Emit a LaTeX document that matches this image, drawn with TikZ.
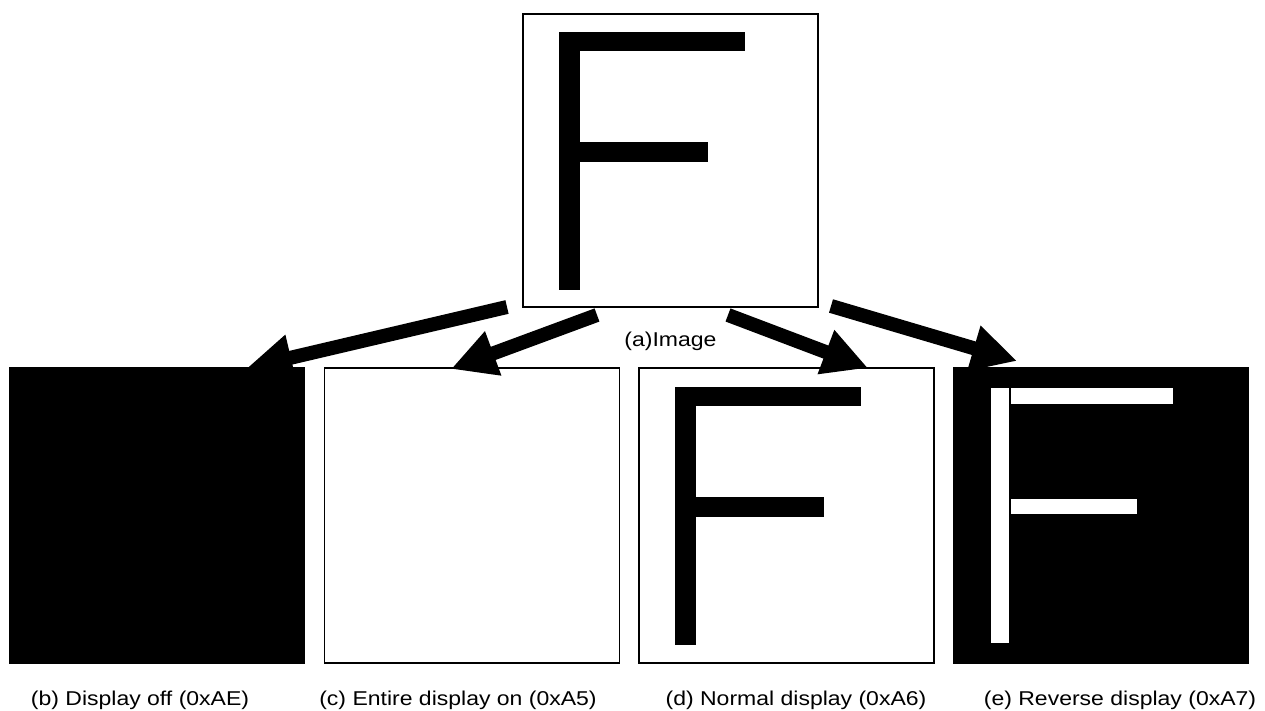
\documentclass[tikz,border=0pt]{standalone}
\usepackage{fontspec}
\setmainfont[FakeStretch=1.15]{Liberation Sans}
\usetikzlibrary{arrows.meta}
\tikzset{
  screen/.style={draw=black, line width=1.4pt, inner sep=0pt, minimum width=295pt, minimum height=295pt},
  caption/.style={anchor=base, inner sep=0pt, font=\fontsize{20}{24}\selectfont},
  bigarrow/.style={line width=14pt, -{Triangle[length=45pt,width=44pt]}},
}
% F glyph: #1 = left x, #2 = top y, #3 = colour, #4 = gap between stem and bars
\newcommand\myFglyph[4]{%
  \fill[#3] (#1+36,#2+19) rectangle (#1+57,#2+277);
  \fill[#3] (#1+57+#4,#2+19) rectangle (#1+222,#2+38);
  \fill[#3] (#1+57+#4,#2+129) rectangle (#1+185,#2+149);
}
\begin{document}
\begin{tikzpicture}[x=1pt,y=-1pt]
\useasboundingbox (0,0) rectangle (1265,711);
\fill[white] (0,0) rectangle (1265,711);

% boxes
\node[screen, minimum height=293pt] (a) at (670.5,160.5) {};
\node[screen, fill=black] (b) at (157,515.5) {};
\node[screen] (c) at (472,515.5) {};
\node[screen] (d) at (786.5,515.5) {};
\node[screen, fill=black] (e) at (1101,515.5) {};

% F glyphs
\myFglyph{523}{13}{black}{0}
\myFglyph{639}{368}{black}{0}
\begin{scope}
\fill[white] (953+38,368+20) rectangle (953+56,368+275);
\fill[white] (953+58,368+20) rectangle (953+220,368+36);
\fill[white] (953+58,368+131) rectangle (953+184,368+146);
\end{scope}

% captions
\node[caption] (la) at (670.5,346) {(a)Image};
\node[caption] (lb) at (140,705) {(b) Display off (0xAE)};
\node[caption] (lc) at (458,705) {(c) Entire display on (0xA5)};
\node[caption] (ld) at (796,705) {(d) Normal display (0xA6)};
\node[caption] (le) at (1120,705) {(e) Reverse display (0xA7)};

% arrows
\coordinate (t1) at (507,307);
\coordinate (h1) at (247,368);
\coordinate (t2) at (597,315);
\coordinate (h2) at (451,369);
\coordinate (t3) at (728,315);
\coordinate (h3) at (868,368);
\coordinate (t4) at (831,306);
\coordinate (h4) at (1017,361);
\draw[bigarrow] (t1) -- (h1);
\draw[bigarrow] (t2) -- (h2);
\draw[bigarrow] (t3) -- (h3);
\draw[bigarrow] (t4) -- (h4);
\end{tikzpicture}
\end{document}
